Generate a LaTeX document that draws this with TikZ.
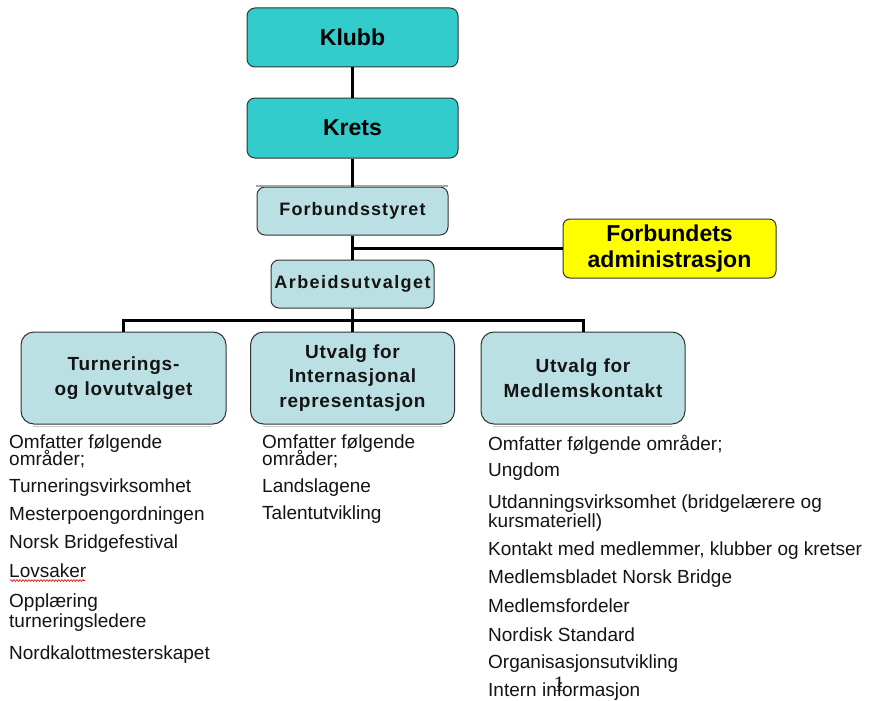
\documentclass[tikz,border=0pt]{standalone}
\usepackage{fontspec}
\setmainfont{Liberation Sans}
\newfontfamily\spacedS[LetterSpace=6]{Liberation Sans}
\newfontfamily\spacedA[LetterSpace=8]{Liberation Sans}
\newfontfamily\spacedB[LetterSpace=4]{Liberation Sans}
\newfontfamily\onefont{Liberation Serif}
\usetikzlibrary{decorations.pathmorphing}
\definecolor{teal1}{HTML}{33CCCC}
\definecolor{lblue}{HTML}{BBE0E3}
\definecolor{yel}{HTML}{FFFF00}
\definecolor{bord}{HTML}{333333}
\definecolor{txt}{HTML}{141414}
\tikzset{
  topbox/.style={draw=bord, line width=1pt, fill=teal1, rounded corners=8pt, inner sep=0pt,
     minimum width=211pt, minimum height=59pt, font=\fontsize{23}{26}\selectfont\bfseries},
  midbox/.style={draw=bord, line width=1pt, fill=lblue, rounded corners=8pt, inner sep=0pt,
     text=txt},
  bigbox/.style={draw=bord, line width=1pt, fill=lblue, rounded corners=13pt, inner sep=0pt,
     minimum width=204pt, minimum height=92pt, align=center,
     font=\spacedB\fontsize{19}{24.5}\selectfont\bfseries, text=txt},
  adminbox/.style={draw=bord, line width=1pt, fill=yel, rounded corners=7pt, inner sep=0pt,
     minimum width=213pt, minimum height=59pt, align=center,
     font=\fontsize{23}{26}\selectfont\bfseries},
  conn/.style={line width=3pt, black},
  shadowline/.style={line width=1.5pt, gray!45},
  item/.style={anchor=base west, inner sep=0pt, font=\fontsize{19}{20}\selectfont, text=txt}
}
\begin{document}
\begin{tikzpicture}[x=1pt,y=-1pt]
\useasboundingbox[fill=white] (0,0) rectangle (870,701);

% boxes
\node[topbox] (klubb) at (352.5,37.5) {Klubb};
\node[topbox, minimum height=60pt] (krets) at (352.5,128) {Krets};
\node[midbox, minimum width=191pt, minimum height=48pt, font=\spacedS\fontsize{18}{20}\selectfont\bfseries] (styret) at (352.5,211) {Forbundsstyret};
\node[midbox, minimum width=163pt, minimum height=48pt, font=\spacedA\fontsize{18}{20}\selectfont\bfseries] (au) at (352.5,284) {Arbeidsutvalget};
\node[adminbox] (admin) at (669.5,248.5) {Forbundets\\administrasjon};
\node[bigbox, minimum width=205pt] (b1) at (123.5,378) {Turnerings-\\og lovutvalget};
\node[bigbox] (b2) at (352.5,378) {Utvalg for\\Internasjonal\\representasjon};
\node[bigbox] (b3) at (583,378) {Utvalg for\\Medlemskontakt};

% shadow / edge remnants
\draw[line width=1.2pt, gray!70] (256,186) -- (448,186);
\draw[shadowline] (33,426.5) -- (212,426.5);
\draw[shadowline] (263,426.5) -- (443,426.5);
\draw[shadowline] (493,426.5) -- (672,426.5);

% connectors
\coordinate (j1) at (352.5,248.5);
\draw[conn] (klubb) -- (krets);
\draw[conn] (krets) -- (styret);
\draw[conn] (styret) -- (au);
\draw[conn] (j1) -- (admin.west);
\draw[conn] (au.south) -- (b2.north);
\draw[conn] (b1.north) -- ++(0,-11.5) -| (b3.north);

% left column
\node[item] (l1) at (9,448) {Omfatter følgende};
\node[item] (l2) at (9,465) {områder;};
\node[item] (l3) at (9,492) {Turneringsvirksomhet};
\node[item] (l4) at (9,520) {Mesterpoengordningen};
\node[item] (l5) at (9,548) {Norsk Bridgefestival};
\node[item] (l6) at (9,577) {Lovsaker};
\node[item] (l7) at (9,607) {Opplæring};
\node[item] (l8) at (9,627) {turneringsledere};
\node[item] (l9) at (9,659) {Nordkalottmesterskapet};
\draw[red!85!black, line width=0.6pt, decorate, decoration={snake, amplitude=0.9pt, segment length=3pt}]
  (l6.base west) ++(1,3.5) -- ++(75,0);

% middle column
\node[item] (m1) at (262,448) {Omfatter følgende};
\node[item] (m2) at (262,465) {områder;};
\node[item] (m3) at (262,492) {Landslagene};
\node[item] (m4) at (262,519) {Talentutvikling};

% right column
\node[item] (r1) at (488,450) {Omfatter følgende områder;};
\node[item] (r2) at (488,476) {Ungdom};
\node[item] (r3) at (488,508) {Utdanningsvirksomhet (bridgelærere og};
\node[item] (r4) at (488,527) {kursmateriell)};
\node[item] (r5) at (488,555) {Kontakt med medlemmer, klubber og kretser};
\node[item] (r6) at (488,583) {Medlemsbladet Norsk Bridge};
\node[item] (r7) at (488,612) {Medlemsfordeler};
\node[item] (r8) at (488,641) {Nordisk Standard};
\node[item] (r9) at (488,668) {Organisasjonsutvikling};
\node[item] (r10) at (488,696) {Intern informasjon};

\node[anchor=base, inner sep=0pt, font=\onefont\fontsize{22}{22}\selectfont, text=txt] (pg) at (559,691) {1};
\end{tikzpicture}
\end{document}
